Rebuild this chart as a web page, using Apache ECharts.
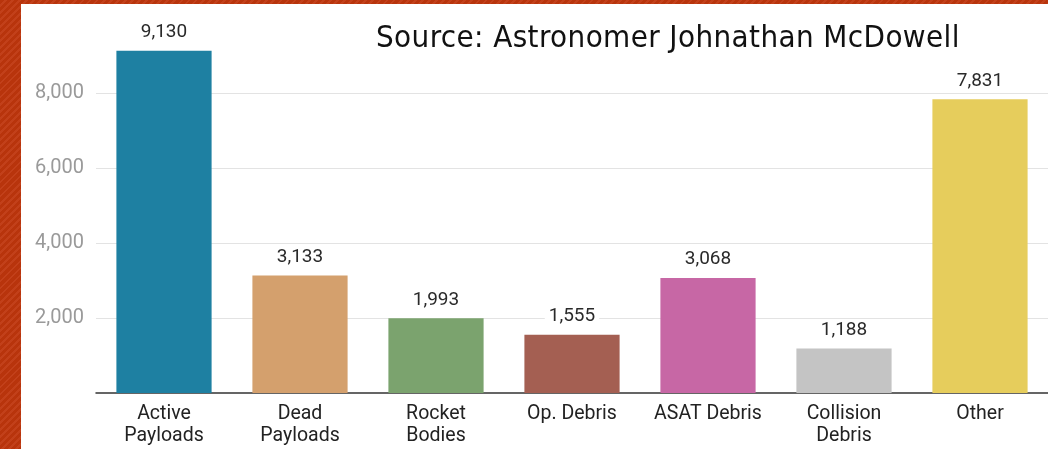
<!DOCTYPE html>
<html>
<head>
<meta charset="utf-8">
<script src="https://cdn.jsdelivr.net/npm/echarts@6/dist/echarts.min.js"></script>
<style>
  html, body { margin: 0; padding: 0; width: 1048px; height: 449px; overflow: hidden; }
  body {
    background: #b8340c repeating-linear-gradient(135deg, #b8340c 0px, #b8340c 3px, #c2401a 3px, #c2401a 5px);
    position: relative;
  }
  #chart { position: absolute; left: 21px; top: 4px; width: 1027px; height: 445px; background: #fff; }
  #source {
    position: absolute; left: 376px; top: 18px; font-family: "DejaVu Sans Condensed", "DejaVu Sans", sans-serif;
    font-size: 31px; letter-spacing: 0.4px; color: #111; white-space: nowrap;
  }
</style>
</head>
<body>
<div id="chart"></div>
<div id="source">Source: Astronomer Johnathan McDowell</div>
<script>
// Tracked objects in orbit by category
const categories = ['Active\nPayloads', 'Dead\nPayloads', 'Rocket\nBodies', 'Op. Debris', 'ASAT Debris', 'Collision\nDebris', 'Other'];
const counts = [9130, 3133, 1993, 1555, 3068, 1188, 7831];
const barColors = ['#1e80a2', '#d4a06d', '#7ba36e', '#a45f52', '#c767a5', '#c4c4c4', '#e6cd5c'];
const yTicks = [0, 2000, 4000, 6000, 8000, 10000];

const chart = echarts.init(document.getElementById('chart'));
chart.setOption({
  animation: false,
  grid: { left: 75, right: -3, top: 14, bottom: 56 },
  xAxis: {
    type: 'category',
    data: categories,
    axisTick: { show: false },
    axisLine: { lineStyle: { color: '#333', width: 1.5 } },
    axisLabel: { interval: 0, color: '#222', fontSize: 19.5, fontFamily: 'Roboto', lineHeight: 22, margin: 10 }
  },
  yAxis: {
    type: 'value',
    min: yTicks[0],
    max: yTicks[yTicks.length - 1],
    interval: 2000,
    axisLine: { show: false },
    axisTick: { show: false },
    splitLine: { lineStyle: { color: ['transparent', '#e3e3e3', '#e3e3e3', '#e3e3e3', '#e3e3e3', 'transparent'], width: 1.2 } },
    axisLabel: {
      color: '#9a9a9a', fontSize: 20, fontFamily: 'Roboto', margin: 12,
      formatter: v => (v === 0 || v === 10000) ? '' : v.toLocaleString('en-US')
    }
  },
  series: [{
    type: 'bar',
    barWidth: '70%',
    data: counts.map((v, i) => ({ value: v, itemStyle: { color: barColors[i] } })),
    label: {
      show: true, position: 'top', distance: 8,
      color: '#2a2a2a', fontSize: 19, fontFamily: 'Roboto',
      backgroundColor: '#fff', padding: [1, 4],
      formatter: p => p.value.toLocaleString('en-US')
    }
  }]
});
</script>
</body>
</html>
